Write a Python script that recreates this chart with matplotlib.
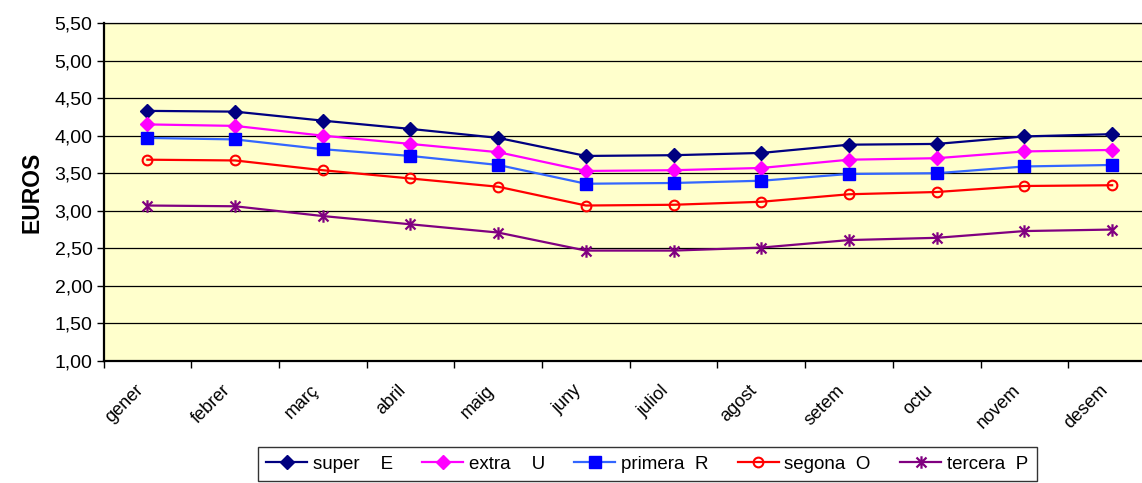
import matplotlib
matplotlib.use("Agg")
import matplotlib.pyplot as plt
from matplotlib.path import Path
from matplotlib.ticker import FuncFormatter, FixedLocator
from matplotlib.transforms import ScaledTranslation

months = ["gener", "febrer", "març", "abril", "maig", "juny",
          "juliol", "agost", "setem", "octu", "novem", "desem"]

super_e = [4.33, 4.32, 4.20, 4.09, 3.97, 3.73, 3.74, 3.77, 3.88, 3.89, 3.99, 4.02]
extra_u = [4.15, 4.13, 4.00, 3.89, 3.78, 3.53, 3.54, 3.57, 3.68, 3.70, 3.79, 3.81]
primera_r = [3.97, 3.95, 3.82, 3.73, 3.61, 3.36, 3.37, 3.40, 3.49, 3.50, 3.59, 3.61]
segona_o = [3.68, 3.67, 3.54, 3.43, 3.32, 3.07, 3.08, 3.12, 3.22, 3.25, 3.33, 3.34]
tercera_p = [3.07, 3.06, 2.93, 2.82, 2.71, 2.47, 2.47, 2.51, 2.61, 2.64, 2.73, 2.75]

labels = ["super    E", "extra    U", "primera  R", "segona  O", "tercera  P"]

plt.rcParams['font.family'] = ['Liberation Sans', 'DejaVu Sans']

W, H = 1142, 483
fig = plt.figure(figsize=(W / 100, H / 100), dpi=100)
left, right, top, bottom = 103.5, 1156, 23, 361
ax = fig.add_axes([left / W, 1 - bottom / H, (right - left) / W, (bottom - top) / H])
ax.set_facecolor("#FFFFCC")

star = Path([(0, -1), (0, 1), (-0.8, -0.8), (0.8, 0.8), (-0.8, 0.8), (0.8, -0.8)],
            [Path.MOVETO, Path.LINETO, Path.MOVETO, Path.LINETO, Path.MOVETO, Path.LINETO])

x = list(range(len(months)))
ax.plot(x, super_e, color="#000080", lw=1.6, marker="D", ms=7.5, mfc="#000080", mec="#000080", label=labels[0], zorder=5)
ax.plot(x, extra_u, color="#FF00FF", lw=1.6, marker="D", ms=7.5, mfc="#FF00FF", mec="#FF00FF", label=labels[1], zorder=5)
ax.plot(x, primera_r, color="#3366FF", lw=1.6, marker="s", ms=8, mfc="#0000FF", mec="#0000FF", label=labels[2], zorder=5)
ax.plot(x, segona_o, color="#FF0000", lw=1.6, marker="o", ms=7, mfc="none", mec="#FF0000", mew=1.5, label=labels[3], zorder=5)
ax.plot(x, tercera_p, color="#800080", lw=1.6, marker=star, ms=9, mfc="#800080", mec="#800080", mew=1.6, label=labels[4], zorder=5)

ax.set_xlim(-0.5, len(months) - 0.5)
ax.set_ylim(1.0, 5.5)
ax.yaxis.set_major_locator(FixedLocator([1.0 + 0.5 * i for i in range(10)]))
ax.yaxis.set_major_formatter(FuncFormatter(lambda v, p: f"{v:.2f}".replace(".", ",")))
ax.grid(axis="y", color="black", lw=0.9)
ax.set_axisbelow(True)

ax.set_xticks(x)
ax.set_xticklabels(months, rotation=45, ha="right", va="top", rotation_mode="anchor")
ax.set_xticks([i - 0.5 for i in range(len(months) + 1)], minor=True)
ax.tick_params(axis="x", which="major", length=0, pad=15, labelsize=13)
ax.tick_params(axis="x", which="minor", length=5, width=1, direction="out")
ax.tick_params(axis="y", length=5, width=1, direction="out", labelsize=14, pad=3)
shift = ScaledTranslation(-13 / 100, 0, fig.dpi_scale_trans)
for lab in ax.get_xticklabels():
    lab.set_transform(lab.get_transform() + shift)

for s in ["left", "bottom"]:
    ax.spines[s].set_linewidth(1.6)
    ax.spines[s].set_color("black")
ax.spines["top"].set_linewidth(0.9)
ax.spines["right"].set_visible(False)

ax.set_ylabel("EUROS", fontsize=16.5, fontweight="bold", labelpad=8)

leg = fig.legend(loc="center", bbox_to_anchor=(647 / W, 1 - 464 / H), ncol=5,
                 frameon=True, fancybox=False, edgecolor="black", fontsize=13.5,
                 handlelength=2.2, columnspacing=1.55, handletextpad=0.3,
                 borderpad=0.45)
leg.get_frame().set_linewidth(1.0)

fig.savefig("out.png", dpi=100)
